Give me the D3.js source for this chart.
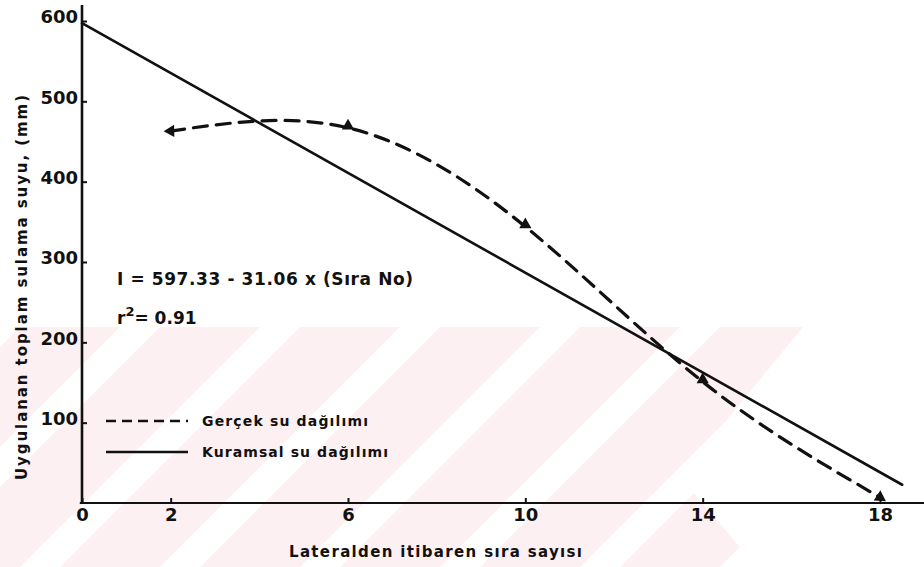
<!DOCTYPE html>
<html>
<head>
<meta charset="utf-8">
<script src="https://cdn.jsdelivr.net/npm/d3@7"></script>
<style>
  html, body { margin: 0; padding: 0; background: #fff; }
  svg { display: block; font-family: "DejaVu Sans", "Liberation Sans", sans-serif; font-weight: bold; }
</style>
</head>
<body>
<svg id="chart" width="924" height="567"></svg>
<script>
// Sıra numaraları (x ekseni işaretleri) ve y ekseni işaretleri
const xTickValues = [0, 2, 6, 10, 14, 18];
const yTickValues = [100, 200, 300, 400, 500, 600];

// Ölçülen (gerçek) su dağılımı: sıra no ve uygulanan su (mm)
const rowNo = [2, 6, 10, 14, 18];
const measured = [463, 467, 344, 151, 7];

// Kuramsal dağılım: doğrusal regresyon katsayıları ve çizim aralığı
const intercept = 597.33;
const slope = -31.06;
const fitRange = [0, 18.5];

const svg = d3.select("#chart");
const W = 924, H = 567;

const x = d3.scaleLinear().domain([0, 18]).range([82, 880]);
const y = d3.scaleLinear().domain([0, 600]).range([503, 21]);

// --- soluk pembe arka plan deseni ---
const bg = svg.append("g");
const bandTop = 327;
bg.append("rect").attr("x", 0).attr("y", bandTop).attr("width", W).attr("height", H - bandTop)
  .attr("fill", "#fdf0f2");
const period = 140, sw = 40, x0 = 540;
for (let k = -6; k <= 6; k++) {
  const xl = x0 + k * period;
  const h = H - bandTop;
  bg.append("polygon")
    .attr("points", [[xl, bandTop], [xl + sw, bandTop], [xl + sw - h, H], [xl - h, H]].map(p => p.join(",")).join(" "))
    .attr("fill", "#fff");
}
// sağ alttaki açık bölge
bg.append("polygon")
  .attr("points", [[680, 477], [680 + 0.82 * (477 - bandTop), bandTop], [W, bandTop], [W, H], [757, H]].map(p => p.join(",")).join(" "))
  .attr("fill", "#fff");

// --- eksenler ---
const ink = "#111";
svg.append("line").attr("x1", x(0)).attr("x2", x(0)).attr("y1", y(0) + 1).attr("y2", y(620))
  .attr("stroke", ink).attr("stroke-width", 2.6);
svg.append("line").attr("x1", x(-0.05)).attr("x2", W).attr("y1", y(0)).attr("y2", y(0))
  .attr("stroke", ink).attr("stroke-width", 2.2);

const xAxis = svg.append("g").attr("transform", `translate(0,${y(0)})`)
  .call(d3.axisBottom(x).tickValues(xTickValues).tickSize(-5).tickPadding(5).tickFormat(d3.format("d")));
xAxis.select(".domain").remove();
xAxis.selectAll("line").attr("stroke", ink).attr("stroke-width", 2);
xAxis.selectAll("text").attr("fill", ink).style("font-size", "18px").style("font-weight", "bold")
  .style("font-family", "DejaVu Sans, sans-serif");

const yAxis = svg.append("g").attr("transform", `translate(${x(0)},0)`)
  .call(d3.axisLeft(y).tickValues(yTickValues).tickSize(-5).tickPadding(4).tickFormat(d3.format("d")));
yAxis.select(".domain").remove();
yAxis.selectAll("line").attr("stroke", ink).attr("stroke-width", 2);
yAxis.selectAll("text").attr("fill", ink).attr("dy", "0.1em").style("font-size", "18px")
  .style("font-weight", "bold").style("font-family", "DejaVu Sans, sans-serif");

// --- kuramsal (regresyon) doğrusu ---
const fitLine = d3.line().x(d => x(d)).y(d => y(intercept + slope * d));
svg.append("path").datum(fitRange).attr("d", fitLine)
  .attr("fill", "none").attr("stroke", ink).attr("stroke-width", 2.6).attr("stroke-linecap", "round");

// --- gerçek dağılım eğrisi ---
const pts = rowNo.map((r, i) => [r, measured[i]]);
const curve = d3.line().x(d => x(d[0])).y(d => y(d[1])).curve(d3.curveNatural);
svg.append("path").datum(pts).attr("d", curve)
  .attr("fill", "none").attr("stroke", ink).attr("stroke-width", 3.2)
  .attr("stroke-dasharray", "14 9").attr("stroke-linecap", "round");

// ölçüm noktaları (üçgen işaretler); uçlardakiler eğri yönünde ok başı
const tri = d3.symbol().type(d3.symbolTriangle).size(65);
pts.forEach((p, i) => {
  const isEnd = i === 0 || i === pts.length - 1;
  let angle = 0;
  if (isEnd) {
    const q = i === 0 ? pts[1] : pts[pts.length - 2];
    const dx = x(p[0]) - x(q[0]), dy = y(p[1]) - y(q[1]);
    angle = Math.atan2(dy, dx) * 180 / Math.PI + 90;
  }
  svg.append("path").attr("d", tri)
    .attr("transform", `translate(${x(p[0])},${y(p[1]) - (isEnd ? 0 : 2)}) rotate(${angle})`)
    .attr("fill", ink);
});

// --- eksen başlıkları ---
svg.append("text").attr("x", 289).attr("y", 557)
  .attr("textLength", 293).attr("lengthAdjust", "spacing")
  .style("font-size", "15px").attr("fill", ink)
  .text("Lateralden itibaren sıra sayısı");

svg.append("text").attr("transform", "translate(27,480) rotate(-90)")
  .attr("x", 0).attr("y", 0)
  .attr("textLength", 385).attr("lengthAdjust", "spacing")
  .style("font-size", "15px").attr("fill", ink)
  .text("Uygulanan toplam sulama suyu, (mm)");

// --- regresyon denklemi ---
svg.append("text").attr("x", 117).attr("y", 285)
  .attr("textLength", 296).attr("lengthAdjust", "spacing")
  .style("font-size", "17px").attr("fill", ink)
  .text("I = 597.33 - 31.06 x (Sıra No)");

const r2 = svg.append("text").attr("x", 117).attr("y", 324).style("font-size", "17px").attr("fill", ink);
r2.append("tspan").text("r");
r2.append("tspan").attr("dy", -8).style("font-size", "13px").text("2");
r2.append("tspan").attr("dy", 8).text("= 0.91");

// --- lejant ---
const legend = [
  { label: "Gerçek su dağılımı", dash: "10 6", y: 421, width: 166 },
  { label: "Kuramsal su dağılımı", dash: null, y: 452, width: 186 }
];
legend.forEach(l => {
  svg.append("line").attr("x1", 106).attr("x2", 188).attr("y1", l.y).attr("y2", l.y)
    .attr("stroke", ink).attr("stroke-width", 2.6)
    .attr("stroke-dasharray", l.dash);
  svg.append("text").attr("x", 202).attr("y", l.y + 5)
    .attr("textLength", l.width).attr("lengthAdjust", "spacing")
    .style("font-size", "14px").attr("fill", ink).text(l.label);
});
</script>
</body>
</html>
